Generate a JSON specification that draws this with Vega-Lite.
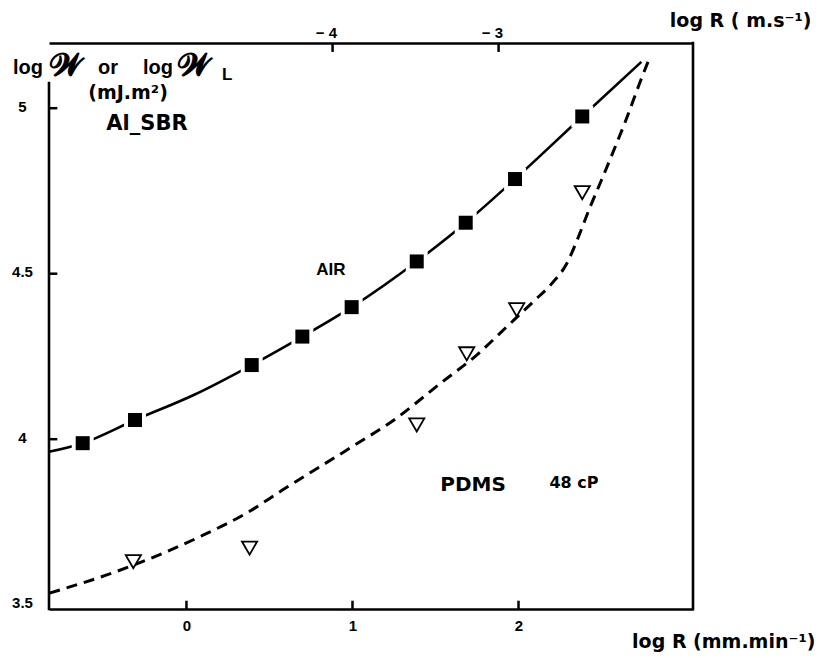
{
  "$schema": "https://vega.github.io/schema/vega-lite/v6.json",
  "width": 644,
  "height": 566,
  "autosize": {"type": "none"},
  "padding": {"left": 49, "top": 43, "right": 129, "bottom": 49},
  "background": "white",
  "config": {
    "view": {"stroke": null},
    "font": "Liberation Sans",
    "axis": {
      "grid": false,
      "ticks": false,
      "labelFont": "Liberation Sans",
      "labelFontWeight": "bold",
      "labelFontSize": 15,
      "labelColor": "#000",
      "domainColor": "#000",
      "domainWidth": 2.6,
      "titleColor": "#000",
      "titleFont": "DejaVu Sans",
      "titleFontWeight": "bold"
    },
    "text": {"font": "DejaVu Sans", "fontWeight": "bold", "color": "#000"}
  },
  "datasets": {
    "air_points": [
      {"logR": -0.625, "logW": 3.988},
      {"logR": -0.31, "logW": 4.058},
      {"logR": 0.393, "logW": 4.224},
      {"logR": 0.698, "logW": 4.31},
      {"logR": 0.995, "logW": 4.399},
      {"logR": 1.387, "logW": 4.537},
      {"logR": 1.682, "logW": 4.654},
      {"logR": 1.979, "logW": 4.786},
      {"logR": 2.384, "logW": 4.975}
    ],
    "pdms_points": [
      {"logR": -0.32, "logW": 3.63},
      {"logR": 0.38, "logW": 3.671},
      {"logR": 1.387, "logW": 4.043},
      {"logR": 1.688, "logW": 4.258},
      {"logR": 1.989, "logW": 4.391},
      {"logR": 2.384, "logW": 4.745}
    ],
    "air_curve": [
      {"logR": -0.828, "logW": 3.962},
      {"logR": -0.625, "logW": 3.988},
      {"logR": -0.31, "logW": 4.058},
      {"logR": 0.05, "logW": 4.135},
      {"logR": 0.393, "logW": 4.224},
      {"logR": 0.698, "logW": 4.31},
      {"logR": 0.995, "logW": 4.399},
      {"logR": 1.387, "logW": 4.537},
      {"logR": 1.682, "logW": 4.654},
      {"logR": 1.979, "logW": 4.786},
      {"logR": 2.384, "logW": 4.975},
      {"logR": 2.74, "logW": 5.14}
    ],
    "pdms_curve": [
      {"logR": -0.826, "logW": 3.535},
      {"logR": -0.48, "logW": 3.59},
      {"logR": -0.12, "logW": 3.66},
      {"logR": 0.1, "logW": 3.71},
      {"logR": 0.36, "logW": 3.776},
      {"logR": 0.58, "logW": 3.847},
      {"logR": 1.0, "logW": 3.978},
      {"logR": 1.25, "logW": 4.058},
      {"logR": 1.53, "logW": 4.169},
      {"logR": 1.75, "logW": 4.255},
      {"logR": 1.93, "logW": 4.34},
      {"logR": 2.09, "logW": 4.416},
      {"logR": 2.2, "logW": 4.47},
      {"logR": 2.29, "logW": 4.53},
      {"logR": 2.36, "logW": 4.61},
      {"logR": 2.43, "logW": 4.7},
      {"logR": 2.5, "logW": 4.783},
      {"logR": 2.57, "logW": 4.868},
      {"logR": 2.65, "logW": 4.968},
      {"logR": 2.73, "logW": 5.076},
      {"logR": 2.78, "logW": 5.14}
    ]
  },
  "layer": [
    {
      "data": {"name": "air_curve"},
      "mark": {"type": "line", "interpolate": "monotone", "color": "#000", "strokeWidth": 2.6},
      "encoding": {
        "x": {
          "field": "logR", "type": "quantitative",
          "scale": {"domain": [-0.828, 3.051], "nice": false, "zero": false},
          "axis": {
            "orient": "bottom",
            "values": [0, 1, 2], "format": "d",
            "labelPadding": 9, "labelFontSize": 15,
            "title": "log R (mm.min⁻¹)",
            "titleX": 766, "titleY": 38, "titleAlign": "right", "titleAnchor": "start",
            "titleBaseline": "alphabetic", "titleFontSize": 19
          }
        },
        "y": {
          "field": "logW", "type": "quantitative",
          "scale": {"domain": [3.487, 5.197], "nice": false, "zero": false},
          "axis": {
            "values": [3.5, 4, 4.5, 5], "format": "~g",
            "domain": false, "labelPadding": 27, "labelFontSize": 15,
            "labelAlign": "center", "labelBaseline": "middle", "labelOffset": -2,
            "title": null
          }
        }
      }
    },
    {
      "data": {"name": "pdms_curve"},
      "mark": {"type": "line", "interpolate": "monotone", "color": "#000", "strokeWidth": 3, "strokeDash": [11, 7]},
      "encoding": {
        "x": {
          "field": "logR", "type": "quantitative",
          "axis": {
            "orient": "top", "values": [0.88, 1.88],
            "labelExpr": "'− ' + format(4.88 - datum.value, '.0f')",
            "labelPadding": 3, "labelFontSize": 15,
            "labelAlign": "right", "labelOffset": 4,
            "title": "log R ( m.s⁻¹)",
            "titleX": 762, "titleY": -17, "titleAlign": "right", "titleAnchor": "start",
            "titleBaseline": "alphabetic", "titleFontSize": 19
          }
        },
        "y": {"field": "logW", "type": "quantitative"}
      }
    },
    {
      "data": {"values": [{}]},
      "mark": {"type": "rule", "color": "#000", "strokeWidth": 2.5},
      "encoding": {"x": {"datum": 0, "type": "quantitative", "axis": null}, "y": {"datum": 3.487, "type": "quantitative"}, "y2": {"datum": 3.512}}
    },
    {
      "data": {"values": [{}]},
      "mark": {"type": "rule", "color": "#000", "strokeWidth": 2.5},
      "encoding": {"x": {"datum": 1, "type": "quantitative", "axis": null}, "y": {"datum": 3.487, "type": "quantitative"}, "y2": {"datum": 3.512}}
    },
    {
      "data": {"values": [{}]},
      "mark": {"type": "rule", "color": "#000", "strokeWidth": 2.5},
      "encoding": {"x": {"datum": 2, "type": "quantitative", "axis": null}, "y": {"datum": 3.487, "type": "quantitative"}, "y2": {"datum": 3.512}}
    },
    {
      "data": {"values": [{}]},
      "mark": {"type": "rule", "color": "#000", "strokeWidth": 2.5},
      "encoding": {"x": {"datum": 0.88, "type": "quantitative", "axis": null}, "y": {"datum": 5.197, "type": "quantitative"}, "y2": {"datum": 5.17}}
    },
    {
      "data": {"values": [{}]},
      "mark": {"type": "rule", "color": "#000", "strokeWidth": 2.5},
      "encoding": {"x": {"datum": 1.88, "type": "quantitative", "axis": null}, "y": {"datum": 5.197, "type": "quantitative"}, "y2": {"datum": 5.17}}
    },
    {
      "data": {"values": [{}]},
      "mark": {"type": "rule", "color": "#000", "strokeWidth": 2.5},
      "encoding": {"x": {"datum": -0.828, "type": "quantitative", "axis": null}, "x2": {"datum": -0.778}, "y": {"datum": 4, "type": "quantitative"}}
    },
    {
      "data": {"values": [{}]},
      "mark": {"type": "rule", "color": "#000", "strokeWidth": 2.5},
      "encoding": {"x": {"datum": -0.828, "type": "quantitative", "axis": null}, "x2": {"datum": -0.778}, "y": {"datum": 4.5, "type": "quantitative"}}
    },
    {
      "data": {"values": [{}]},
      "mark": {"type": "rule", "color": "#000", "strokeWidth": 2.5},
      "encoding": {"x": {"datum": -0.828, "type": "quantitative", "axis": null}, "x2": {"datum": -0.778}, "y": {"datum": 5, "type": "quantitative"}}
    },
    {
      "data": {"values": [{}]},
      "mark": {"type": "rule", "color": "#000", "strokeWidth": 2.6, "strokeCap": "square"},
      "encoding": {
        "x": {"datum": -0.828, "type": "quantitative", "axis": null},
        "y": {"datum": 3.487, "type": "quantitative"},
        "y2": {"datum": 5.076}
      }
    },
    {
      "data": {"values": [{}]},
      "mark": {"type": "rule", "color": "#000", "strokeWidth": 2.6, "strokeCap": "square"},
      "encoding": {
        "x": {"datum": 3.051, "type": "quantitative", "axis": null},
        "y": {"datum": 3.487, "type": "quantitative"},
        "y2": {"datum": 5.197}
      }
    },
    {
      "data": {"name": "air_points"},
      "mark": {"type": "point", "shape": "square", "filled": true, "color": "#fff", "opacity": 1, "size": 480},
      "encoding": {
        "x": {"field": "logR", "type": "quantitative", "axis": null},
        "y": {"field": "logW", "type": "quantitative"}
      }
    },
    {
      "data": {"name": "air_points"},
      "mark": {"type": "point", "shape": "square", "filled": true, "color": "#000", "opacity": 1, "size": 196},
      "encoding": {
        "x": {"field": "logR", "type": "quantitative", "axis": null},
        "y": {"field": "logW", "type": "quantitative"}
      }
    },
    {
      "data": {"name": "pdms_points"},
      "mark": {"type": "point", "shape": "triangle-down", "filled": false, "fill": "#fff", "fillOpacity": 1, "stroke": "#000", "strokeWidth": 1.8, "opacity": 1, "size": 230},
      "encoding": {
        "x": {"field": "logR", "type": "quantitative", "axis": null},
        "y": {"field": "logW", "type": "quantitative"}
      }
    },
    {
      "data": {"values": [{}]},
      "mark": {"type": "text", "text": "AIR", "font": "Liberation Sans", "fontSize": 17, "align": "center", "baseline": "middle"},
      "encoding": {"x": {"datum": 0.87, "type": "quantitative", "axis": null}, "y": {"datum": 4.512, "type": "quantitative"}}
    },
    {
      "data": {"values": [{}]},
      "mark": {"type": "text", "text": "PDMS", "fontSize": 20, "align": "center", "baseline": "middle"},
      "encoding": {"x": {"datum": 1.726, "type": "quantitative", "axis": null}, "y": {"datum": 3.862, "type": "quantitative"}}
    },
    {
      "data": {"values": [{}]},
      "mark": {"type": "text", "text": "48 cP", "fontSize": 16, "align": "center", "baseline": "middle"},
      "encoding": {"x": {"datum": 2.334, "type": "quantitative", "axis": null}, "y": {"datum": 3.868, "type": "quantitative"}}
    },
    {
      "data": {"values": [{}]},
      "mark": {"type": "text", "text": "Al_SBR", "fontSize": 21, "align": "center", "baseline": "middle"},
      "encoding": {"x": {"datum": -0.238, "type": "quantitative", "axis": null}, "y": {"datum": 4.953, "type": "quantitative"}}
    },
    {
      "data": {"values": [{}]},
      "mark": {"type": "text", "text": "(mJ.m²)", "fontSize": 19, "align": "center", "baseline": "middle"},
      "encoding": {"x": {"datum": -0.352, "type": "quantitative", "axis": null}, "y": {"datum": 5.046, "type": "quantitative"}}
    },
    {
      "data": {"values": [{}]},
      "mark": {"type": "text", "text": "log", "font": "Liberation Sans", "fontSize": 20, "align": "left", "baseline": "alphabetic"},
      "encoding": {"x": {"datum": -1.045, "type": "quantitative", "axis": null}, "y": {"datum": 5.104, "type": "quantitative"}}
    },
    {
      "data": {"values": [{}]},
      "mark": {"type": "text", "text": "𝓦", "fontSize": 31, "align": "left", "baseline": "alphabetic"},
      "encoding": {"x": {"datum": -0.822, "type": "quantitative", "axis": null}, "y": {"datum": 5.1, "type": "quantitative"}}
    },
    {
      "data": {"values": [{}]},
      "mark": {"type": "text", "text": "or", "font": "Liberation Sans", "fontSize": 20, "align": "left", "baseline": "alphabetic"},
      "encoding": {"x": {"datum": -0.533, "type": "quantitative", "axis": null}, "y": {"datum": 5.104, "type": "quantitative"}}
    },
    {
      "data": {"values": [{}]},
      "mark": {"type": "text", "text": "log", "font": "Liberation Sans", "fontSize": 20, "align": "left", "baseline": "alphabetic"},
      "encoding": {"x": {"datum": -0.262, "type": "quantitative", "axis": null}, "y": {"datum": 5.104, "type": "quantitative"}}
    },
    {
      "data": {"values": [{}]},
      "mark": {"type": "text", "text": "𝓦", "fontSize": 31, "align": "left", "baseline": "alphabetic"},
      "encoding": {"x": {"datum": -0.051, "type": "quantitative", "axis": null}, "y": {"datum": 5.1, "type": "quantitative"}}
    },
    {
      "data": {"values": [{}]},
      "mark": {"type": "text", "text": "L", "font": "Liberation Sans", "fontSize": 17, "align": "left", "baseline": "alphabetic"},
      "encoding": {"x": {"datum": 0.214, "type": "quantitative", "axis": null}, "y": {"datum": 5.085, "type": "quantitative"}}
    }
  ],
  "resolve": {"axis": {"x": "independent"}}
}
